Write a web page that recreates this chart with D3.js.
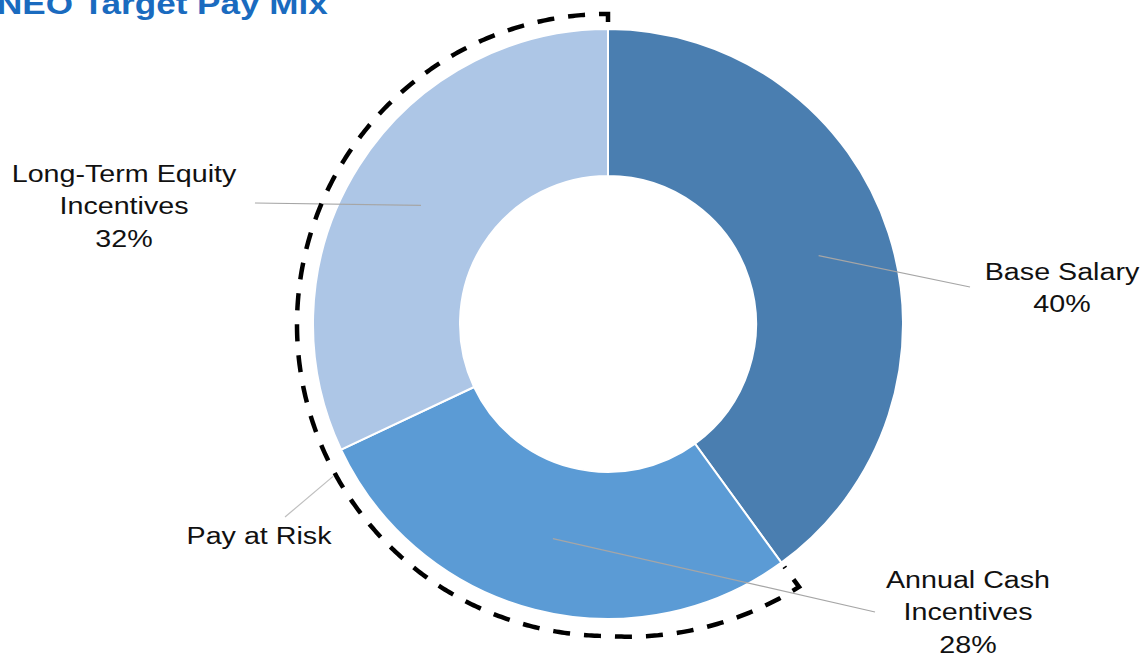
<!DOCTYPE html>
<html><head><meta charset="utf-8">
<script src="https://cdn.jsdelivr.net/npm/d3@7"></script>
<style>html,body{margin:0;padding:0;background:#fff;overflow:hidden}</style>
</head><body>
<svg id="chart" width="1146" height="661"></svg>
<script>
// Pay mix shares (percent of target pay)
const categories = ["Base Salary", "Annual Cash Incentives", "Long-Term Equity Incentives"];
const shares = [40, 28, 32];
const colors = ["#4A7EB0", "#5B9BD5", "#ADC6E6"];
const labelLines = [["Base Salary", "40%"], ["Annual Cash", "Incentives", "28%"], ["Long-Term Equity", "Incentives", "32%"]];
const title = "NEO Target Pay Mix";
const bracketLabel = "Pay at Risk";
const atRisk = ["Annual Cash Incentives", "Long-Term Equity Incentives"];

// Layout
const W = 1146, H = 661;
const cx = 608, cy = 324, rOuter = 295, rInner = 148;
const lineStep = 32.5, fontSize = 24.5, stretch = 1.17;
const labelPos = [{x: 1062, y: 280}, {x: 968, y: 588}, {x: 124, y: 182}];
const leaderEnd = [{x: 970, y: 287}, {x: 875, y: 612}, {x: 255, y: 203}];

const svg = d3.select("#chart");
const data = categories.map((c, i) => ({name: c, value: shares[i], color: colors[i], lines: labelLines[i]}));

const pie = d3.pie().sort(null).value(d => d.value);
const arcs = pie(data);
const arc = d3.arc().innerRadius(rInner).outerRadius(rOuter);

const g = svg.append("g").attr("transform", `translate(${cx},${cy})`);

g.selectAll("path.slice").data(arcs).join("path")
  .attr("class", "slice")
  .attr("d", arc)
  .attr("fill", d => d.data.color)
  .attr("stroke", "#fff")
  .attr("stroke-width", 2);

// Leader lines from slice centroids to labels
g.selectAll("line.leader").data(arcs).join("line")
  .attr("class", "leader")
  .attr("x1", d => arc.centroid(d)[0])
  .attr("y1", d => arc.centroid(d)[1])
  .attr("x2", (d, i) => leaderEnd[i].x - cx)
  .attr("y2", (d, i) => leaderEnd[i].y - cy)
  .attr("stroke", "#A6A6A6")
  .attr("stroke-width", 1.2);

// Category labels
const font = "Arial, 'Liberation Sans', sans-serif";
arcs.forEach((d, i) => {
  const t = svg.append("text")
    .attr("transform", `translate(${labelPos[i].x},${labelPos[i].y}) scale(${stretch},1)`)
    .attr("text-anchor", "middle")
    .attr("font-family", font)
    .attr("font-size", fontSize)
    .attr("fill", "#111");
  d.data.lines.forEach((ln, j) => {
    t.append("tspan").attr("x", 0).attr("y", j * lineStep).text(ln);
  });
});

// Dashed bracket around the at-risk slices
const riskArcs = arcs.filter(d => atRisk.includes(d.data.name));
const a0 = d3.max(riskArcs, d => d.endAngle);   // top
const a1 = d3.min(riskArcs, d => d.startAngle); // bottom-right end
const rAt = d3.scaleLinear().domain([a0, Math.PI, a1]).range([310, 312, 325]);
const pts = [[a0, 302]];
d3.range(a0, a1, -Math.PI / 360).forEach(a => pts.push([a, rAt(a)]));
pts.push([a1, rAt(a1)], [a1, 300]);
g.append("path")
  .attr("d", d3.lineRadial().angle(p => p[0]).radius(p => p[1])(pts))
  .attr("fill", "none")
  .attr("stroke", "#000")
  .attr("stroke-width", 4.5)
  .attr("stroke-dasharray", "17,14");

// Pay at Risk callout
const calloutAngle = 241 * Math.PI / 180;
const rc = rAt(calloutAngle) + 3;
svg.append("line")
  .attr("x1", cx + rc * Math.sin(calloutAngle))
  .attr("y1", cy - rc * Math.cos(calloutAngle))
  .attr("x2", 285).attr("y2", 517)
  .attr("stroke", "#BFBFBF").attr("stroke-width", 1.2);
svg.append("text")
  .attr("transform", `translate(259,544) scale(${stretch},1)`)
  .attr("text-anchor", "middle")
  .attr("font-family", font)
  .attr("font-size", fontSize)
  .attr("fill", "#111")
  .text(bracketLabel);

// Title (runs off the top edge of the page)
svg.append("text")
  .attr("transform", `translate(-3,14) scale(${stretch},1)`)
  .attr("font-family", font)
  .attr("font-size", 30)
  .attr("font-weight", "bold")
  .attr("fill", "#1A6BBF")
  .text(title);
</script>
</body></html>
